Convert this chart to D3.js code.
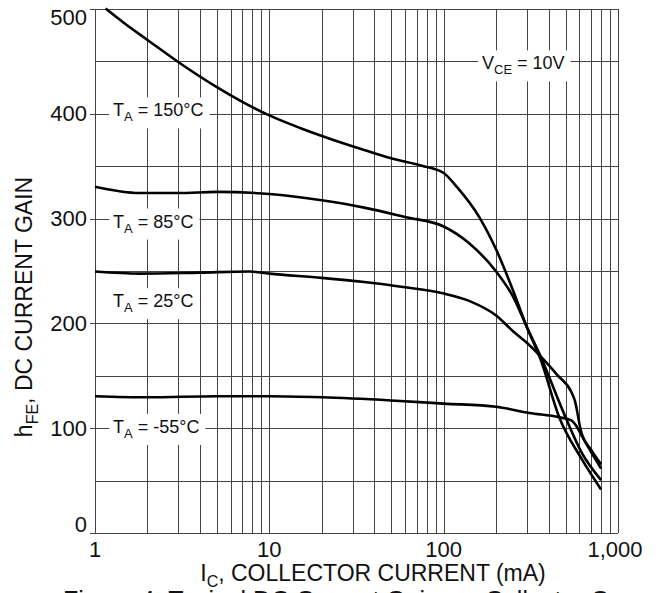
<!DOCTYPE html>
<html>
<head>
<meta charset="utf-8">
<script src="https://cdn.jsdelivr.net/npm/d3@7"></script>
<style>
  body { margin: 0; background: #fff; }
  svg { display: block; font-family: "Liberation Sans", Arial, sans-serif; }
  .grid line { stroke: #444; stroke-width: 1; shape-rendering: crispEdges; }
  .curve { fill: none; stroke: #000; stroke-width: 2.6; stroke-linejoin: round; }
</style>
</head>
<body>
<svg id="chart" width="659" height="593"></svg>
<script>
// collector current (mA) and dc current gain
const current150 = [1.15, 1.5, 2, 3, 5, 7, 10, 15, 22, 35, 50, 75, 100, 120, 160, 200, 250, 300, 360, 460, 620, 800];
const gain150 = [500, 485, 470, 449, 425, 411, 398, 386, 376, 365, 357, 350, 343, 329, 301, 270, 231, 196, 165, 110, 70, 41];

const current85 = [1, 1.8, 3, 5, 10, 20, 35, 60, 100, 140, 200, 250, 300, 360, 480, 620, 800];
const gain85 = [330, 324, 324, 325, 323, 317, 310, 301, 292, 276, 249, 225, 196, 168, 117, 76, 50];

const current25 = [1, 1.8, 4, 7.7, 10, 20, 35, 60, 100, 140, 200, 250, 300, 360, 450, 540, 565, 615, 700, 800];
const gain25 = [249, 247, 248, 249, 247, 243, 239, 234, 228, 221, 207, 192, 181, 168, 150, 134, 126, 96, 79, 65];

const currentM55 = [1, 2, 5, 10, 20, 50, 100, 200, 310, 460, 540, 580, 630, 700, 800];
const gainM55 = [130, 129, 130, 130, 129, 126, 123, 120, 114, 110, 107, 101, 90, 77, 61];

const xTicks = [1, 10, 100, 1000];
const yTicks = [0, 100, 200, 300, 400, 500];

const labels = [
  { name: "150°C", x: 1.27, y: 397 },
  { name: "85°C", x: 1.27, y: 291 },
  { name: "25°C", x: 1.27, y: 215 },
  { name: "-55°C", x: 1.27, y: 95 }
];

const svg = d3.select("#chart");
const margin = { top: 8.5, right: 41, bottom: 60, left: 95 };
const width = 659 - margin.left - margin.right;
const height = 593 - margin.top - margin.bottom;

const x = d3.scaleLog().domain([1, 1000]).range([0, width]);
const y = d3.scaleLinear().domain([0, 500]).range([height - 0.5, 0]);

const g = svg.append("g").attr("transform", `translate(${margin.left},${margin.top})`);

// grid
let xGrid = [];
[1, 10, 100].forEach(d => { for (let i = 1; i <= 10; i++) xGrid.push(d * i); });
xGrid = Array.from(new Set(xGrid));
const yGrid = d3.range(0, 501, 50);

const grid = g.append("g").attr("class", "grid");
grid.selectAll(".v").data(xGrid).enter().append("line")
  .attr("x1", d => Math.round(x(d)) + 0.5).attr("x2", d => Math.round(x(d)) + 0.5)
  .attr("y1", 0).attr("y2", height);
grid.selectAll(".h").data(yGrid).enter().append("line")
  .attr("x1", 0).attr("x2", width)
  .attr("y1", d => Math.round(y(d)) + 0.5).attr("y2", d => Math.round(y(d)) + 0.5);

// small ticks outside on the left
grid.selectAll(".t").data(yTicks).enter().append("line")
  .attr("x1", -5).attr("x2", 0)
  .attr("y1", d => Math.round(y(d)) + 0.5).attr("y2", d => Math.round(y(d)) + 0.5);

// curves
const line = d3.line()
  .x(d => x(d[0]))
  .y(d => y(d[1]))
  .curve(d3.curveMonotoneX);

const series = [
  d3.zip(current150, gain150),
  d3.zip(current85, gain85),
  d3.zip(current25, gain25),
  d3.zip(currentM55, gainM55)
];

g.selectAll(".curve").data(series).enter().append("path")
  .attr("class", "curve")
  .attr("d", line);

// annotation labels with white background
function addLabel(parts, px, py, size) {
  const lg = g.append("g");
  const bg = lg.append("rect").attr("fill", "#fff");
  const t = lg.append("text")
    .attr("x", px).attr("y", py)
    .attr("font-size", size)
    .attr("fill", "#111");
  t.append("tspan").text(parts[0]);
  t.append("tspan").attr("dy", 5).attr("font-size", size * 0.72).text(parts[1]);
  t.append("tspan").attr("dy", -5).text(parts[2]);
  const b = t.node().getBBox();
  bg.attr("x", b.x - 4).attr("y", b.y - 3)
    .attr("width", b.width + 10).attr("height", b.height + 7);
}

labels.forEach(d => {
  addLabel(["T", "A", " = " + d.name], x(d.x), y(d.y), 18);
});
addLabel(["V", "CE", " = 10V"], x(166), y(450) + 8.5, 18);

// axis labels
g.selectAll(".ylab").data(yTicks).enter().append("text")
  .attr("x", -8)
  .attr("y", d => y(d) + (d === 500 ? 9 : d === 0 ? -8 : 0))
  .attr("dy", "0.36em")
  .attr("text-anchor", "end")
  .attr("font-size", 22)
  .attr("fill", "#111")
  .text(d => d);

g.selectAll(".xlab").data(xTicks).enter().append("text")
  .attr("x", d => x(d) + (d === 1000 ? -3 : 0))
  .attr("y", height + 24)
  .attr("text-anchor", "middle")
  .attr("font-size", 22)
  .attr("fill", "#111")
  .text(d => d3.format(",")(d));

// axis titles
const xt = svg.append("text")
  .attr("x", 373).attr("y", 581)
  .attr("text-anchor", "middle")
  .attr("font-size", 23)
  .attr("fill", "#111");
xt.append("tspan").text("I");
xt.append("tspan").attr("dy", 6).attr("font-size", 16).text("C");
xt.append("tspan").attr("dy", -6).text(", COLLECTOR CURRENT (mA)");

const yt = svg.append("text")
  .attr("transform", "translate(32,307) rotate(-90)")
  .attr("text-anchor", "middle")
  .attr("font-size", 23)
  .attr("fill", "#111");
yt.append("tspan").text("h");
yt.append("tspan").attr("dy", 6).attr("font-size", 16).text("FE");
yt.append("tspan").attr("dy", -6).text(", DC CURRENT GAIN");

// caption, mostly below the bottom edge
svg.append("text")
  .attr("x", 63).attr("y", 609)
  .attr("font-size", 25)
  .attr("fill", "#111")
  .text("Figure 4. Typical DC Current Gain vs. Collector Current");
</script>
</body>
</html>
